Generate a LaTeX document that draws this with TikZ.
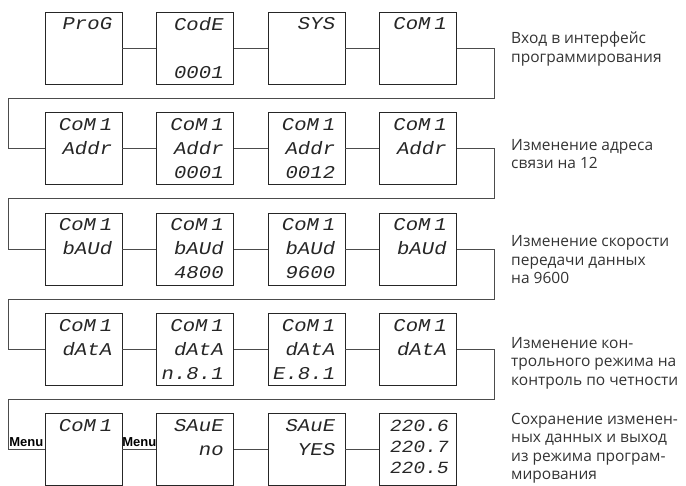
\documentclass[tikz,border=0pt]{standalone}
\usepackage{fontspec}
\usepackage{tikz}
\usetikzlibrary{calc,positioning}
\newfontfamily\segfont[FakeStretch=1.15,FakeSlant=0.2,WordSpace=0.3]{Liberation Mono}
\newfontfamily\notefont{Open Sans}
\newfontfamily\menufont{Liberation Sans}

\begin{document}
\begin{tikzpicture}[x=1pt,y=-1pt,
  box/.style={draw=black!85, line width=0.9pt, minimum width=77pt, minimum height=72pt, inner sep=0pt},
  seg/.style={font=\segfont\fontsize{18}{24}\selectfont, text=black!85, anchor=north east, align=right, inner sep=0pt},
  wire/.style={draw=black!70, line width=0.8pt},
  note/.style={font=\notefont\fontsize{15.5}{18.5}\selectfont, text=black!80, anchor=west, align=left, inner sep=0pt},
  menu/.style={font=\menufont\bfseries\fontsize{13}{13}\selectfont, anchor=south, inner sep=2.5pt}]
\useasboundingbox (0,0) rectangle (686,486);

% Displays
\node[box] (r1c1) at (83.5,48) {}; \node[box] (r1c2) at (195,48) {}; \node[box] (r1c3) at (306.5,48) {}; \node[box] (r1c4) at (418,48) {};
\node[box] (r2c1) at (83.5,148.5) {}; \node[box] (r2c2) at (195,148.5) {}; \node[box] (r2c3) at (306.5,148.5) {}; \node[box] (r2c4) at (418,148.5) {};
\node[box] (r3c1) at (83.5,249) {}; \node[box] (r3c2) at (195,249) {}; \node[box] (r3c3) at (306.5,249) {}; \node[box] (r3c4) at (418,249) {};
\node[box] (r4c1) at (83.5,349.5) {}; \node[box] (r4c2) at (195,349.5) {}; \node[box] (r4c3) at (306.5,349.5) {}; \node[box] (r4c4) at (418,349.5) {};
\node[box] (r5c1) at (83.5,449.5) {}; \node[box] (r5c2) at (195,449.5) {}; \node[box] (r5c3) at (306.5,449.5) {}; \node[box] (r5c4) at (418,449.5) {};

% Segment texts
\node[seg] (t11) at ($(r1c1.north east)+(-11,6)$) {ProG};
\node[seg] (t12) at ($(r1c2.north east)+(-11,6)$) {CodE\\[24pt]0001};
\node[seg] (t13) at ($(r1c3.north east)+(-11,6)$) {SYS};
\node[seg] (t14) at ($(r1c4.north east)+(-11,6)$) {CoM 1};
\node[seg] (t21) at ($(r2c1.north east)+(-11,6)$) {CoM 1\\Addr};
\node[seg] (t22) at ($(r2c2.north east)+(-11,6)$) {CoM 1\\Addr\\0001};
\node[seg] (t23) at ($(r2c3.north east)+(-11,6)$) {CoM 1\\Addr\\0012};
\node[seg] (t24) at ($(r2c4.north east)+(-11,6)$) {CoM 1\\Addr};
\node[seg] (t31) at ($(r3c1.north east)+(-11,6)$) {CoM 1\\bAUd};
\node[seg] (t32) at ($(r3c2.north east)+(-11,6)$) {CoM 1\\bAUd\\4800};
\node[seg] (t33) at ($(r3c3.north east)+(-11,6)$) {CoM 1\\bAUd\\9600};
\node[seg] (t34) at ($(r3c4.north east)+(-11,6)$) {CoM 1\\bAUd};
\node[seg] (t41) at ($(r4c1.north east)+(-11,6)$) {CoM 1\\dAtA};
\node[seg] (t42) at ($(r4c2.north east)+(-11,6)$) {CoM 1\\dAtA\\n.8.1};
\node[seg] (t43) at ($(r4c3.north east)+(-11,6)$) {CoM 1\\dAtA\\E.8.1};
\node[seg] (t44) at ($(r4c4.north east)+(-11,6)$) {CoM 1\\dAtA};
\node[seg] (t51) at ($(r5c1.north east)+(-11,6)$) {CoM 1};
\node[seg] (t52) at ($(r5c2.north east)+(-11,6)$) {SAuE\\no};
\node[seg] (t53) at ($(r5c3.north east)+(-11,6)$) {SAuE\\YES};
\node[seg, font=\segfont\fontsize{17}{21}\selectfont] (t54) at ($(r5c4.north east)+(-9,7)$) {220.6\\220.7\\220.5};

% Turn points
\coordinate (turn1) at (494,98); \coordinate (back1) at (8,98);
\coordinate (turn2) at (494,198.5); \coordinate (back2) at (8,198.5);
\coordinate (turn3) at (494,299); \coordinate (back3) at (8,299);
\coordinate (turn4) at (494,399.5); \coordinate (back4) at (8,399.5);

% Wires
\draw[wire] (r1c1) -- (r1c2); \draw[wire] (r1c2) -- (r1c3); \draw[wire] (r1c3) -- (r1c4);
\draw[wire] (r1c4.east) -| (turn1) -- (back1) |- (r2c1.west);
\draw[wire] (r2c1) -- (r2c2); \draw[wire] (r2c2) -- (r2c3); \draw[wire] (r2c3) -- (r2c4);
\draw[wire] (r2c4.east) -| (turn2) -- (back2) |- (r3c1.west);
\draw[wire] (r3c1) -- (r3c2); \draw[wire] (r3c2) -- (r3c3); \draw[wire] (r3c3) -- (r3c4);
\draw[wire] (r3c4.east) -| (turn3) -- (back3) |- (r4c1.west);
\draw[wire] (r4c1) -- (r4c2); \draw[wire] (r4c2) -- (r4c3); \draw[wire] (r4c3) -- (r4c4);
\draw[wire] (r4c4.east) -| (turn4) -- (back4) |- (r5c1.west);
\draw[wire] (r5c1) -- (r5c2); \draw[wire] (r5c2) -- (r5c3); \draw[wire] (r5c3) -- (r5c4);

% Menu keys
\node[menu] (menu1) at ($(back4 |- r5c1)!0.5!(r5c1.west)$) {Menu};
\node[menu] (menu2) at ($(r5c1.east)!0.5!(r5c2.west)$) {Menu};

% Notes
\node[note] (n1) at (511,49) {Вход в интерфейс\\программирования};
\node[note] (n2) at (511,154) {Изменение адреса\\связи на 12};
\node[note] (n3) at (511,260) {Изменение скорости\\передачи данных\\на 9600};
\node[note] (n4) at (511,363) {Изменение кон-\\трольного режима на\\контроль по четности};
\node[note] (n5) at (511,448) {Сохранение изменен-\\ных данных и выход\\из режима програм-\\мирования};
\end{tikzpicture}
\end{document}
